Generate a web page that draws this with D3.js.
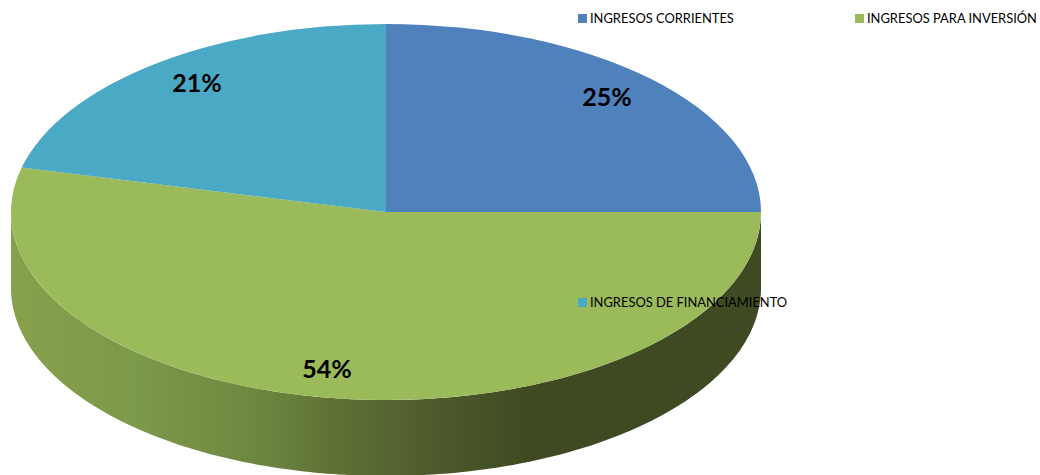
<!DOCTYPE html>
<html><head><meta charset="utf-8">
<script src="https://cdn.jsdelivr.net/npm/d3@7"></script>
<style>html,body{margin:0;padding:0;background:#fff;overflow:hidden}svg{display:block}</style>
</head><body><svg id="c" width="1040" height="475"></svg>
<script>
const categories = ["INGRESOS CORRIENTES","INGRESOS PARA INVERSIÓN","INGRESOS DE FINANCIAMIENTO"];
const values = [25,53.8,21.2];
const labels = ["25%","54%","21%"];
const colors = ["#4f81bd","#9bba5a","#4aa9c4"];
const legendPos = [[578,23],[855,23],[578,307]];
const labelPos = [[607,106],[327,378],[197,92]];
const sideStops = [[0,"#87a04c"],[0.16,"#7d994a"],[0.32,"#6f8840"],[0.43,"#5f7235"],[0.52,"#536230"],[0.65,"#434f25"],[0.69,"#3f4a22"],[1,"#3f4a22"]];

const svg = d3.select("#c");
const cx=386, cy=212, rx=375, ry=188, depth=76;
const FONT = "Lato, 'Open Sans', sans-serif";

const defs = svg.append("defs");
const grad = defs.append("linearGradient").attr("id","side").attr("gradientUnits","userSpaceOnUse")
  .attr("x1",cx-rx).attr("x2",cx+rx).attr("y1",0).attr("y2",0);
grad.selectAll("stop").data(sideStops).join("stop")
  .attr("offset",d=>d[0]).attr("stop-color",d=>d[1]);

// Side wall of the disc
const sweep = d3.scaleLinear().domain([0,1]).range([Math.PI/2,Math.PI*1.5]);
const side = d3.area()
  .x(t=>cx+rx*Math.sin(sweep(t)))
  .y0(t=>cy-ry*Math.cos(sweep(t)))
  .y1(t=>cy-ry*Math.cos(sweep(t))+depth)
  .curve(d3.curveLinear);
svg.append("path").attr("d",side(d3.range(0,1.0005,0.005))).attr("fill","url(#side)");

// Top face
const pie = d3.pie().sort(null);
const arc = d3.arc().innerRadius(0).outerRadius(rx);
svg.append("g").attr("transform",`translate(${cx},${cy}) scale(1,${ry/rx})`)
  .selectAll("path").data(pie(values)).join("path")
  .attr("d",arc).attr("fill",(d,i)=>colors[i]);

// Data labels
svg.append("g").selectAll("text").data(labels).join("text")
  .attr("x",(d,i)=>labelPos[i][0]).attr("y",(d,i)=>labelPos[i][1])
  .attr("text-anchor","middle").attr("font-family",FONT).attr("font-weight",700)
  .attr("font-size",25).attr("fill","#000").text(d=>d);

// Legend
const lg = svg.append("g").selectAll("g").data(categories).join("g")
  .attr("transform",(d,i)=>`translate(${legendPos[i][0]},${legendPos[i][1]})`);
lg.append("rect").attr("y",-9).attr("width",9).attr("height",9).attr("fill",(d,i)=>colors[i]);
lg.append("text").attr("x",12).attr("font-family",FONT).attr("font-size",12.9).attr("fill","#000").text(d=>d);
</script></body></html>
